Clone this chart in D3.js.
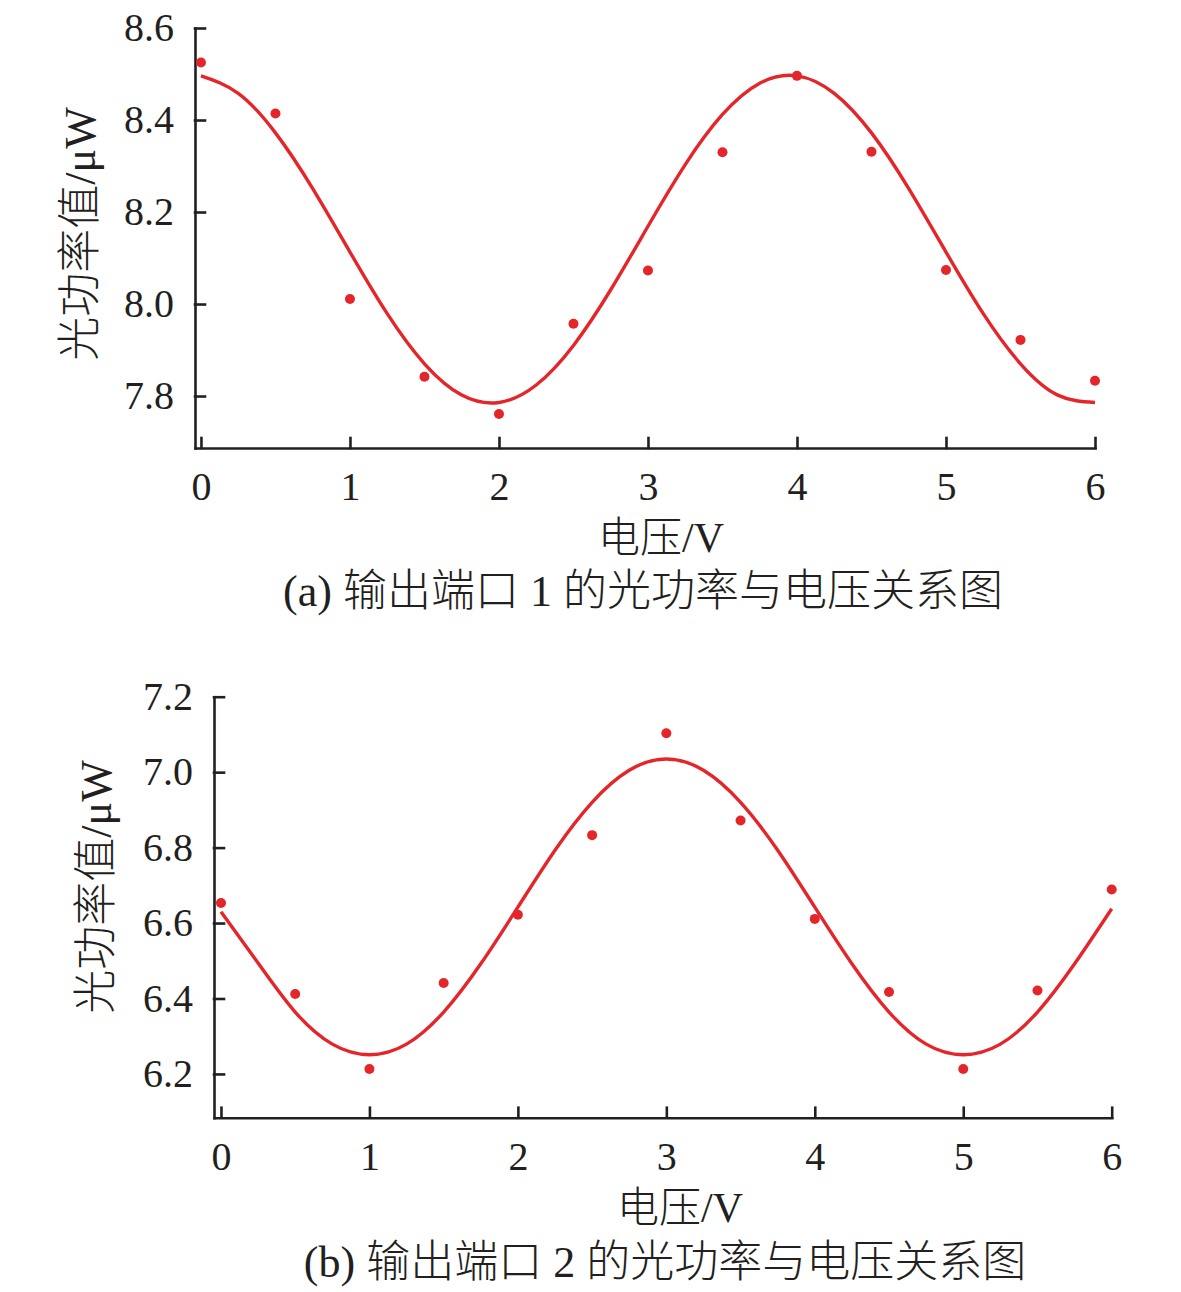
<!DOCTYPE html>
<html>
<head>
<meta charset="utf-8">
<script src="https://cdn.jsdelivr.net/npm/d3@7"></script>
<style>
  body { margin: 0; background: #fff; }
  text { fill: #231f20; }
</style>
</head>
<body>
<svg width="1181" height="1292"></svg>
<script>
// measured points (voltage in V, power in μW)
const voltage = [0, 0.5, 1, 1.5, 2, 2.5, 3, 3.5, 4, 4.5, 5, 5.5, 6];
const port1Power = [8.525, 8.414, 8.011, 7.842, 7.761, 7.957, 8.073, 8.330, 8.496, 8.331, 8.074, 7.922, 7.833];
const port2Power = [6.653, 6.412, 6.213, 6.441, 6.622, 6.833, 7.103, 6.872, 6.611, 6.417, 6.213, 6.421, 6.689];

// fitted curves, every 0.25 V
const fitVoltage = [0, 0.25, 0.5, 0.75, 1, 1.25, 1.5, 1.75, 2, 2.25, 2.5, 2.75, 3,
    3.25, 3.5, 3.75, 4, 4.25, 4.5, 4.75, 5, 5.25, 5.5, 5.75, 6];
const port1Fit = [8.496, 8.458, 8.372, 8.251, 8.113, 7.979, 7.870, 7.802, 7.786, 7.824, 7.910, 8.031, 8.169,
    8.303, 8.412, 8.480, 8.496, 8.458, 8.372, 8.251, 8.113, 7.979, 7.870, 7.802, 7.786];
const port2Fit = [6.630, 6.494, 6.364, 6.279, 6.251, 6.279, 6.364, 6.492, 6.642, 6.793, 6.920, 7.005, 7.035,
    7.005, 6.920, 6.793, 6.642, 6.492, 6.364, 6.279, 6.251, 6.279, 6.364, 6.492, 6.638];

const xTicks = [0, 1, 2, 3, 4, 5, 6];
const yTicks1 = [7.8, 8.0, 8.2, 8.4, 8.6];
const yTicks2 = [6.2, 6.4, 6.6, 6.8, 7.0, 7.2];

const xLabel = '电压/V';
const yLabel = '光功率值/μW';
const caption1 = '(a) 输出端口 1 的光功率与电压关系图';
const caption2 = '(b) 输出端口 2 的光功率与电压关系图';

const svg = d3.select('svg');
const red = '#e4262b';
const ink = '#231f20';
const fontFam = "'Liberation Serif', 'Noto Sans CJK SC', serif";

const renderPanel = (cfg, points, fit, yTicks, caption) => {
    const xScale = d3.scaleLinear()
        .domain(cfg.xDomain)
        .range([cfg.left, cfg.right]);

    const yScale = d3.scaleLinear()
        .domain(cfg.yDomain)
        .range([cfg.bottom, cfg.top]);

    const g = svg.append('g');

    const xAxisG = g.append('g')
        .attr('transform', `translate(0, ${cfg.bottom})`)
        .call(d3.axisBottom(xScale)
            .tickValues(xTicks)
            .tickFormat(d3.format('d'))
            .tickSizeInner(-10)
            .tickSizeOuter(0)
            .tickPadding(24));

    const yAxisG = g.append('g')
        .attr('transform', `translate(${cfg.left}, 0)`)
        .call(d3.axisLeft(yScale)
            .tickValues(yTicks)
            .tickFormat(d3.format('.1f'))
            .tickSizeInner(-10)
            .tickSizeOuter(0)
            .tickPadding(21));

    [xAxisG, yAxisG].forEach(a => {
        a.selectAll('.domain, .tick line')
            .attr('stroke', ink)
            .attr('stroke-width', 2.6)
            .attr('stroke-linecap', 'square');
        a.selectAll('.tick text')
            .attr('font-family', fontFam)
            .attr('font-size', 40)
            .attr('fill', ink);
    });

    const line = d3.line()
        .x(d => xScale(d[0]))
        .y(d => yScale(d[1]))
        .curve(d3.curveNatural);

    g.append('path')
        .datum(fitVoltage.map((v, i) => [v, fit[i]]))
        .attr('d', line)
        .attr('fill', 'none')
        .attr('stroke', red)
        .attr('stroke-width', 3.4);

    g.selectAll('circle').data(voltage.map((v, i) => [v, points[i]]))
        .enter().append('circle')
        .attr('cx', d => xScale(d[0]))
        .attr('cy', d => yScale(d[1]))
        .attr('r', 5)
        .attr('fill', red);

    g.append('text')
        .attr('x', cfg.xLabelX)
        .attr('y', cfg.xLabelY)
        .attr('text-anchor', 'middle')
        .attr('font-family', fontFam)
        .attr('font-weight', 300)
        .attr('font-size', 42)
        .text(xLabel);

    g.append('text')
        .attr('transform', `translate(${cfg.yLabelX}, ${cfg.yLabelY}) rotate(-90)`)
        .attr('text-anchor', 'middle')
        .attr('dominant-baseline', 'central')
        .attr('font-family', fontFam)
        .attr('font-weight', 300)
        .attr('font-size', 44)
        .text(yLabel);

    g.append('text')
        .attr('x', cfg.captionX)
        .attr('y', cfg.captionY)
        .attr('text-anchor', 'middle')
        .attr('font-family', fontFam)
        .attr('font-weight', 300)
        .attr('font-size', 44)
        .text(caption);
};

renderPanel({
    left: 195, right: 1095, top: 28, bottom: 448,
    xDomain: [-0.04, 6], yDomain: [7.687, 8.6],
    xLabelX: 661, xLabelY: 552,
    yLabelX: 80, yLabelY: 234,
    captionX: 643, captionY: 606
}, port1Power, port1Fit, yTicks1, caption1);

renderPanel({
    left: 214, right: 1111.7, top: 696.7, bottom: 1117.7,
    xDomain: [-0.047, 6], yDomain: [6.084, 7.2],
    xLabelX: 680, xLabelY: 1222,
    yLabelX: 96, yLabelY: 887,
    captionX: 665, captionY: 1277
}, port2Power, port2Fit, yTicks2, caption2);
</script>
</body>
</html>
